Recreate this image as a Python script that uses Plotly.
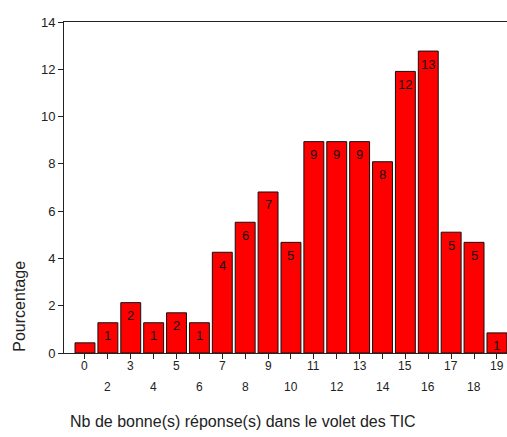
import plotly.graph_objects as go

# nombre de bonnes réponses (la catégorie 1 est absente)
categories = ["0", "2", "3", "4", "5", "6", "7", "8", "9", "10",
              "11", "12", "13", "14", "15", "16", "17", "18", "19"]
pourcentage = [0.43, 1.28, 2.13, 1.28, 1.70, 1.28, 4.26, 5.53, 6.81, 4.68,
               8.94, 8.94, 8.94, 8.09, 11.91, 12.77, 5.11, 4.68, 0.85]
etiquettes = ["", "1", "2", "1", "2", "1", "4", "6", "7", "5",
              "9", "9", "9", "8", "12", "13", "5", "5", "1"]

FONT = "Arial, Liberation Sans, sans-serif"

fig = go.Figure()
fig.add_bar(x=categories, y=pourcentage,
            marker=dict(color="#ff0000", line=dict(color="#111111", width=1)))

annotations = []
# valeurs arrondies dans le haut des barres (x = index de catégorie)
for i, (v, t) in enumerate(zip(pourcentage, etiquettes)):
    if t:
        annotations.append(dict(x=i, y=v, xref="x", yref="y", text=t,
                                showarrow=False, yanchor="middle", yshift=-13,
                                font=dict(size=13, color="#111111", family=FONT)))
# étiquettes de l'axe x en quinconce
for i, c in enumerate(categories):
    annotations.append(dict(x=i, y=0, xref="x", yref="y", text=c,
                            showarrow=False, yanchor="middle",
                            yshift=-13 if i % 2 == 0 else -34,
                            font=dict(size=12, color="#222222", family=FONT)))
annotations.append(dict(x=-0.1, y=0.142, xref="paper", yref="paper",
                        text="Pourcentage", textangle=-90, showarrow=False,
                        xanchor="center", yanchor="middle",
                        font=dict(size=16, color="#222222", family=FONT)))
annotations.append(dict(x=0.404, y=0, xref="paper", yref="paper",
                        text="Nb de bonne(s) réponse(s) dans le volet des TIC",
                        showarrow=False, yanchor="middle", yshift=-68,
                        font=dict(size=16, color="#222222", family=FONT)))

fig.update_layout(
    width=507, height=437,
    margin=dict(l=64, r=0, t=22, b=84),
    plot_bgcolor="white", paper_bgcolor="white",
    bargap=0.13, showlegend=False,
    font=dict(family=FONT, size=12, color="#222222"),
    annotations=annotations,
    xaxis=dict(type="category", range=[-0.917, 18.44], showticklabels=False,
               showline=True, linecolor="#222222", linewidth=1, mirror=True,
               ticks="outside", ticklen=5, tickcolor="#222222", showgrid=False),
    yaxis=dict(range=[0, 14], dtick=2, showline=True, linecolor="#222222",
               linewidth=1, ticks="outside", ticklen=5, tickcolor="#222222",
               showgrid=False, zeroline=False,
               tickfont=dict(size=13, color="#222222", family=FONT)),
)

# pas de marge de page, pas de barre de défilement, pas de barre d'outils
fig.write_html("out.html",
               config={"displayModeBar": False},
               post_script="document.body.style.margin='0';"
                           "document.body.style.overflow='hidden';")
